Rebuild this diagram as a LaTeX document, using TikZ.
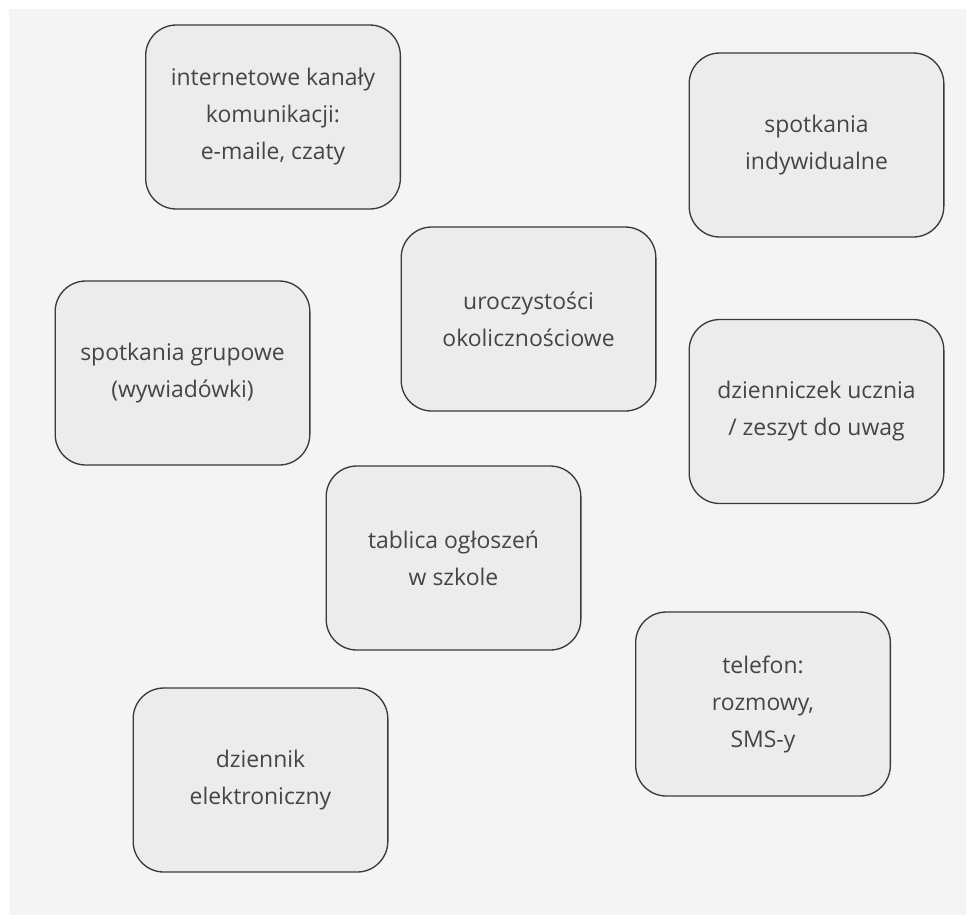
\documentclass[tikz,border=0pt]{standalone}
\usepackage{fontspec}
\setmainfont{Open Sans}
\usepackage{tikz}
\definecolor{tlo}{HTML}{F4F4F4}
\definecolor{ramka}{HTML}{ECECEC}
\definecolor{pismo}{HTML}{3A3A3A}
\definecolor{litery}{HTML}{454545}
\tikzset{
  kanal/.style={draw=pismo, line width=1pt, fill=ramka, rounded corners=23pt,
    minimum width=191pt, minimum height=138pt, align=center, text=litery,
    font=\fontsize{17.2}{27.75}\selectfont, inner sep=0pt}
}

\begin{document}
\begin{tikzpicture}[line cap=round,line join=round,x=0.75pt,y=-0.75pt]
    \useasboundingbox (0,0) rectangle (966,915);
    \fill[tlo] (9,9) rectangle (966,915);
    \node[kanal] (internet) at (273,117) {internetowe kanały\\komunikacji:\\e-maile, czaty};
    \node[kanal] (indyw) at (816.5,145) {spotkania\\indywidualne};
    \node[kanal] (uroczyst) at (528.5,319) {uroczystości\\okolicznościowe};
    \node[kanal] (grupowe) at (182.5,373) {spotkania grupowe\\(wywiadówki)};
    \node[kanal] (dzienniczek) at (816.5,411.5) {dzienniczek ucznia\\/ zeszyt do uwag};
    \node[kanal] (tablica) at (453.5,558) {tablica ogłoszeń\\w szkole};
    \node[kanal] (telefon) at (763,704) {telefon:\\rozmowy,\\SMS-y};
    \node[kanal] (edziennik) at (260.5,780) {dziennik\\elektroniczny};
  \end{tikzpicture}
\end{document}
